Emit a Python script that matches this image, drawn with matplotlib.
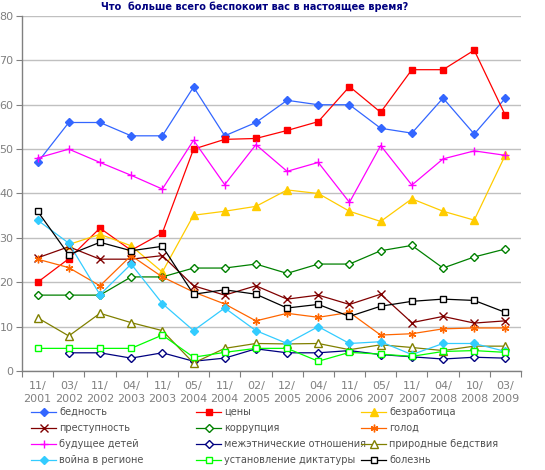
import numpy as np
import matplotlib
matplotlib.use("Agg")
import matplotlib.pyplot as plt

nan = np.nan
categories = ["11/\n2001", "03/\n2002", "11/\n2002", "04/\n2003", "11/\n2003", "05/\n2004",
              "11/\n2004", "02/\n2005", "12/\n2005", "04/\n2006", "11/\n2006", "05/\n2007",
              "11/\n2007", "04/\n2008", "10/\n2008", "03/\n2009"]

bednost = [47, 56, 56, 53, 53, 64, 53, 56, 61, 60, 60, 54.7, 53.6, 61.5, 53.4, 61.5]
tseny = [20, 25.3, 32.2, 27.2, 31.1, 50, 52.2, 52.4, 54.2, 56.2, 64.1, 58.3, 67.9, 67.9, 72.3, 57.6]
bezrabotitsa = [nan, 28.5, 30.8, 28.2, 22.3, 35.1, 36, 37.1, 40.8, 40, 36, 33.7, 38.8, 36, 34, 48.7]
prestupnost = [25.5, 28, 25.2, 25.2, 26, 19.2, 17.1, 19.2, 16.2, 17.1, 15, 17.3, 10.9, 12.3, 10.8, 11.3]
korruptsiya = [17.1, 17.1, 17.1, 21.2, 21.2, 23.2, 23.2, 24.1, 22, 24.1, 24.1, 27.1, 28.3, 23.2, 25.7, 27.5]
golod = [25.2, 23.3, 19.2, 26, 21.2, 17.8, 15.1, 11.3, 13, 12.1, 13.2, 8.1, 8.4, 9.5, 9.7, 9.7]
budushchee = [48, 50, 47, 44.1, 41, 52, 42, 51, 45, 47, 38, 50.8, 41.9, 47.8, 49.6, 48.6]
mezhetnich = [nan, 4.1, 4.1, 2.9, 4.1, 2.2, 2.9, 5, 4.1, 4.1, 4.6, 3.7, 3.2, 2.7, 3.1, 2.9]
prirodnye = [12, 7.9, 13, 10.9, 9.1, 1.8, 5.1, 6.2, 6.1, 6.2, 4.8, 5.9, 5.3, 4.6, 5.6, 5.6]
voina = [34, 28.8, 17.2, 24.1, 15.2, 9.1, 14.2, 9.1, 6.2, 10, 6.2, 6.6, 3.7, 6.2, 6.2, 4.4]
diktatura = [5.1, 5.1, 5.1, 5.1, 8.1, 3.1, 4.2, 5.1, 5.1, 2.2, 4.2, 3.8, 3.3, 4.4, 4.6, 4.2]
bolezn = [36, 26.2, 29, 27.1, 28.1, 17.3, 18.3, 17.3, 14.2, 15, 12.3, 14.6, 15.7, 16.2, 15.9, 13.2]

series = [
    ("бедность", bednost, "#3366FF", "D", "#3366FF"),
    ("цены", tseny, "#FF0000", "s", "#FF0000"),
    ("безработица", bezrabotitsa, "#FFCC00", "^", "#FFCC00"),
    ("преступность", prestupnost, "#800000", "x", "#800000"),
    ("коррупция", korruptsiya, "#008000", "D", "white"),
    ("голод", golod, "#FF6600", (6, 2, 0), "#FF6600"),
    ("будущее детей", budushchee, "#FF00FF", "+", "#FF00FF"),
    ("межэтнические отношения", mezhetnich, "#000080", "D", "white"),
    ("природные бедствия", prirodnye, "#808000", "^", "white"),
    ("война в регионе", voina, "#33CCFF", "D", "#33CCFF"),
    ("установление диктатуры", diktatura, "#00FF00", "s", "white"),
    ("болезнь", bolezn, "#000000", "s", "white"),
]

fig = plt.figure(figsize=(5.45, 4.70), dpi=100)
ax = fig.add_axes([22/545, 1 - 371/470, (521 - 22)/545, (371 - 16)/470])

x = np.arange(len(categories))
handles = []
for name, vals, col, mk, fc in series:
    ms = 5.5
    if mk in ("x", "+"):
        ms = 6
    if mk == "D":
        ms = 4.5
    if mk == "s":
        ms = 5
    h, = ax.plot(x, np.array(vals, dtype=float), color=col, lw=0.9, marker=mk,
                 markersize=ms, markerfacecolor=fc, markeredgecolor=col,
                 markeredgewidth=1.0, label=name)
    handles.append(h)

ax.set_xlim(-0.5, len(categories) - 0.5)
ax.set_ylim(0, 80)
ax.set_yticks(np.arange(0, 81, 10))
ax.yaxis.grid(True, color="#C0C0C0", lw=1.0)
ax.set_axisbelow(True)
ax.set_xticks(np.arange(-0.5, len(categories), 1.0))
ax.set_xticklabels([])
ax.set_xticks(x, minor=True)
ax.set_xticklabels(categories, minor=True, fontsize=8, color="#808080", linespacing=1.35)
ax.tick_params(axis="x", which="minor", length=0, pad=7)
ax.tick_params(axis="x", which="major", length=4, color="#808080", direction="out")
ax.tick_params(axis="y", length=4, color="#808080", direction="out", labelsize=8,
               labelcolor="#808080", pad=2)
for s in ("top", "right"):
    ax.spines[s].set_visible(False)
for s in ("left", "bottom"):
    ax.spines[s].set_color("#808080")
    ax.spines[s].set_linewidth(1.0)

fig.text(255/545, 1 - 7/470, "Что  больше всего беспокоит вас в настоящее время?",
         ha="center", va="center", fontsize=7, fontweight="bold", color="#000080")

cols_x = [31, 196, 361]
for c in range(3):
    hs = [handles[r*3 + c] for r in range(4)]
    fig.legend(handles=hs, labels=[h.get_label() for h in hs], loc="upper left",
               bbox_to_anchor=(cols_x[c]/545, 1 - 407/470), frameon=False, fontsize=7,
               handlelength=2.6, handletextpad=0.3, labelspacing=0.62, borderpad=0,
               borderaxespad=0, labelcolor="#505050")

fig.savefig("out.png", dpi=100)
